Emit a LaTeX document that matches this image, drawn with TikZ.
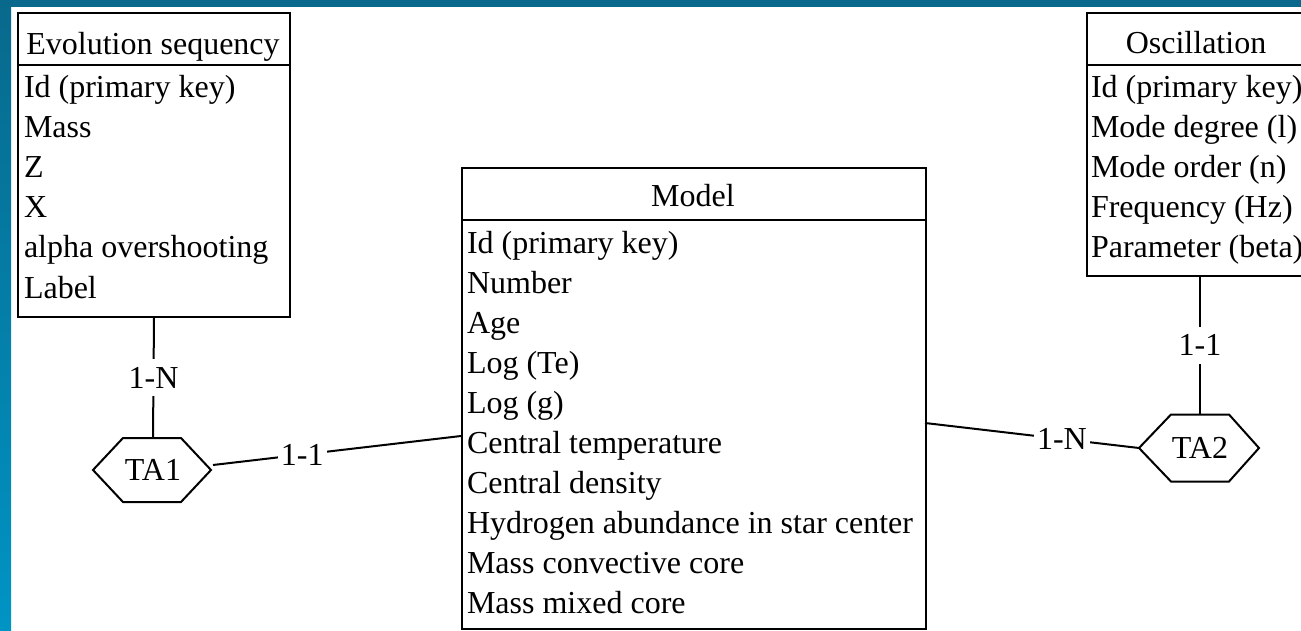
\documentclass[tikz,border=0pt]{standalone}
\usepackage{fontspec}
\setmainfont{Liberation Serif}
\definecolor{bandA}{HTML}{08698C}
\definecolor{bandB}{HTML}{0094C4}
\begin{document}
\begin{tikzpicture}[x=1pt,y=-1pt,line width=2pt,
  every node/.style={font=\fontsize{32}{40}\selectfont, inner sep=0pt},
  entity/.style={draw, anchor=north west},
  row/.style={anchor=base west},
  ttl/.style={anchor=base},
  relnode/.style={minimum width=118, minimum height=64},
  card/.style={fill=white, inner xsep=3pt, inner ysep=8pt}]
\useasboundingbox (0,0) rectangle (1301,631);
\fill[white] (0,0) rectangle (1301,631);
\fill[top color=bandA, bottom color=bandB, draw=none] (0,0) rectangle (11,631);
\fill[bandA] (0,0) rectangle (1301,7);

% Evolution sequency
\node[entity, minimum width=272, minimum height=304] (evo) at (17,12) {};
\draw (17,65) -- (289,65);
\node[ttl] (evoT) at (153,55) {Evolution sequency};
\node[row] (e1) at (23,98) {Id (primary key)};
\node[row] (e2) at (23,138) {Mass};
\node[row] (e3) at (23,178) {Z};
\node[row] (e4) at (23,218) {X};
\node[row] (e5) at (23,258) {alpha overshooting};
\node[row] (e6) at (23,298) {Label};

% Model
\node[entity, minimum width=464, minimum height=461] (mod) at (461,167) {};
\draw (461,220) -- (925,220);
\node[ttl] (modT) at (693,207) {Model};
\node[row] (m1) at (466,253) {Id (primary key)};
\node[row] (m2) at (466,293) {Number};
\node[row] (m3) at (466,333) {Age};
\node[row] (m4) at (466,373) {Log (Te)};
\node[row] (m5) at (466,413) {Log (g)};
\node[row] (m6) at (466,453) {Central temperature};
\node[row] (m7) at (466,493) {Central density};
\node[row] (m8) at (466,533) {Hydrogen abundance in star center};
\node[row] (m9) at (466,573) {Mass convective core};
\node[row] (m10) at (466,613) {Mass mixed core};

% Oscillation
\node[entity, minimum width=220, minimum height=263] (osc) at (1086,12) {};
\draw (1086,65) -- (1306,65);
\node[ttl] (oscT) at (1196,54) {Oscillation};
\node[row] (o1) at (1090,98) {Id (primary key)};
\node[row] (o2) at (1090,138) {Mode degree (l)};
\node[row] (o3) at (1090,178) {Mode order (n)};
\node[row] (o4) at (1090,218) {Frequency (Hz)};
\node[row] (o5) at (1090,258) {Parameter (beta)};

% Relationships
\node[relnode] (ta1) at (153,470) {TA1};
\draw (ta1.west) -- ++(30,-32) -- ++(58,0) -- ++(30,32) -- ++(-30,32) -- ++(-58,0) -- cycle;
\node[relnode, minimum width=120, minimum height=67] (ta2) at (1200,448) {TA2};
\draw (ta2.west) -- ++(32,-33.5) -- ++(58,0) -- ++(30,33.5) -- ++(-30,33.5) -- ++(-58,0) -- cycle;

% Connectors
\coordinate (mL) at (461,436);
\coordinate (mR) at (925,423);
\draw (evo.south) -- node[card] {1-N} (ta1.north);
\draw ([yshift=5pt]ta1.east) -- node[card, pos=0.36, inner ysep=2pt] {1-1} (mL);
\draw (mR) -- node[card, pos=0.64, inner ysep=2pt] {1-N} (ta2.west);
\draw (ta2.north |- osc.south) -- node[card] {1-1} (ta2.north);
\end{tikzpicture}
\end{document}
